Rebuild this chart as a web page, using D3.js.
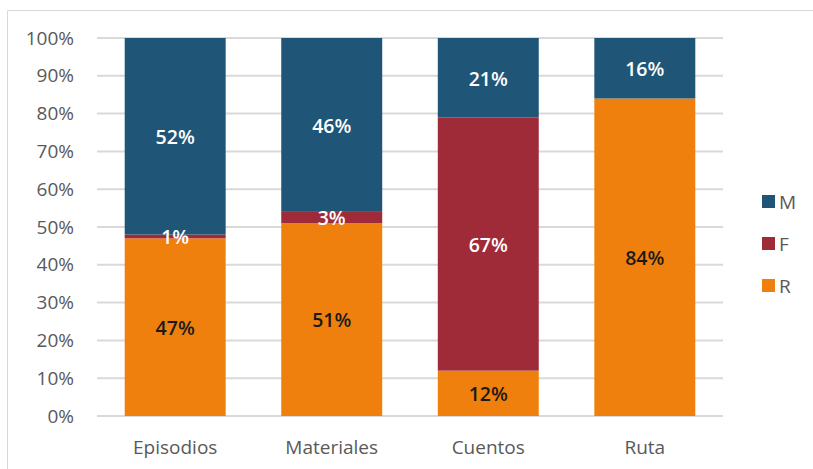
<!DOCTYPE html>
<meta charset="utf-8">
<head>
  <title>Stacked 100%</title>
</head>
<style>
    body { margin: 0; background: #fff; }
    svg text { font-family: "Open Sans", "Noto Sans", sans-serif; }
    .grid line { stroke: #d9d9d9; stroke-width: 2px; }
    .tick-label { fill: #595959; font-size: 19px; }
    .bar-label { font-size: 19.5px; }
</style>
<body>
<svg id="chart" width="813" height="469"></svg>
<script src="https://cdn.jsdelivr.net/npm/d3@7"></script>
<script>
    var categories = ["Episodios", "Materiales", "Cuentos", "Ruta"];
    var seriesNames = ["R", "F", "M"];
    var R = [47, 51, 12, 84];
    var F = [1, 3, 67, 0];
    var M = [52, 46, 21, 16];
    var yTicks = [0, 10, 20, 30, 40, 50, 60, 70, 80, 90, 100];

    var colors = { R: "#f0800d", F: "#a02b38", M: "#1f5678" };
    var labelColors = { R: "#1a1a1a", F: "#ffffff", M: "#ffffff" };

    var rows = categories.map(function(c, i) {
        return { cat: c, R: R[i], F: F[i], M: M[i] };
    });

    var svg = d3.select("#chart");

    // chart frame (top and left edges visible)
    svg.append("line").attr("x1", 7.5).attr("x2", 813).attr("y1", 10.5).attr("y2", 10.5)
        .attr("stroke", "#d9d9d9");
    svg.append("line").attr("x1", 7.5).attr("x2", 7.5).attr("y1", 10.5).attr("y2", 469)
        .attr("stroke", "#d9d9d9");

    var x = d3.scaleBand().domain(categories).range([97, 723]).paddingInner(0.355).paddingOuter(0.177);
    var y = d3.scaleLinear().domain([0, 100]).range([416, 38]);

    var grid = svg.append("g").attr("class", "grid");
    grid.selectAll("line").data(yTicks).enter().append("line")
        .attr("x1", 97).attr("x2", 723)
        .attr("y1", function(d) { return y(d); })
        .attr("y2", function(d) { return y(d); });

    svg.append("g").selectAll("text").data(yTicks).enter().append("text")
        .attr("class", "tick-label")
        .attr("x", 74)
        .attr("y", function(d) { return y(d); })
        .attr("dy", "0.35em")
        .attr("text-anchor", "end")
        .text(function(d) { return d + "%"; });

    var stack = d3.stack().keys(seriesNames);
    var layers = stack(rows);

    var g = svg.append("g").selectAll("g").data(layers).enter().append("g")
        .attr("fill", function(d) { return colors[d.key]; });

    g.selectAll("rect").data(function(d) { return d; }).enter().append("rect")
        .attr("x", function(d) { return x(d.data.cat); })
        .attr("width", x.bandwidth())
        .attr("y", function(d) { return y(d[1]); })
        .attr("height", function(d) { return y(d[0]) - y(d[1]); });

    layers.forEach(function(layer) {
        svg.append("g").selectAll("text")
            .data(layer.filter(function(d) { return d[1] - d[0] > 0; }))
            .enter().append("text")
            .attr("class", "bar-label")
            .attr("fill", labelColors[layer.key])
            .attr("font-weight", 600)
            .attr("text-anchor", "middle")
            .attr("x", function(d) { return x(d.data.cat) + x.bandwidth() / 2; })
            .attr("y", function(d) { return y((d[0] + d[1]) / 2) + 1; })
            .attr("dy", "0.35em")
            .text(function(d) { return (d[1] - d[0]) + "%"; });
    });

    svg.append("g").selectAll("text").data(categories).enter().append("text")
        .attr("class", "tick-label")
        .attr("x", function(d) { return x(d) + x.bandwidth() / 2; })
        .attr("y", 447)
        .attr("dy", "0.35em")
        .attr("text-anchor", "middle")
        .text(function(d) { return d; });

    // legend, M on top
    var legendKeys = seriesNames.slice().reverse();
    var legendY = [202, 244, 286];
    var legend = svg.append("g").selectAll("g").data(legendKeys).enter().append("g")
        .attr("transform", function(d, i) { return "translate(762," + legendY[i] + ")"; });
    legend.append("rect").attr("x", 0).attr("y", -7).attr("width", 13).attr("height", 13)
        .attr("fill", function(d) { return colors[d]; });
    legend.append("text").attr("class", "tick-label")
        .attr("x", 17).attr("y", 0).attr("dy", "0.35em")
        .text(function(d) { return d; });
</script>
</body>
